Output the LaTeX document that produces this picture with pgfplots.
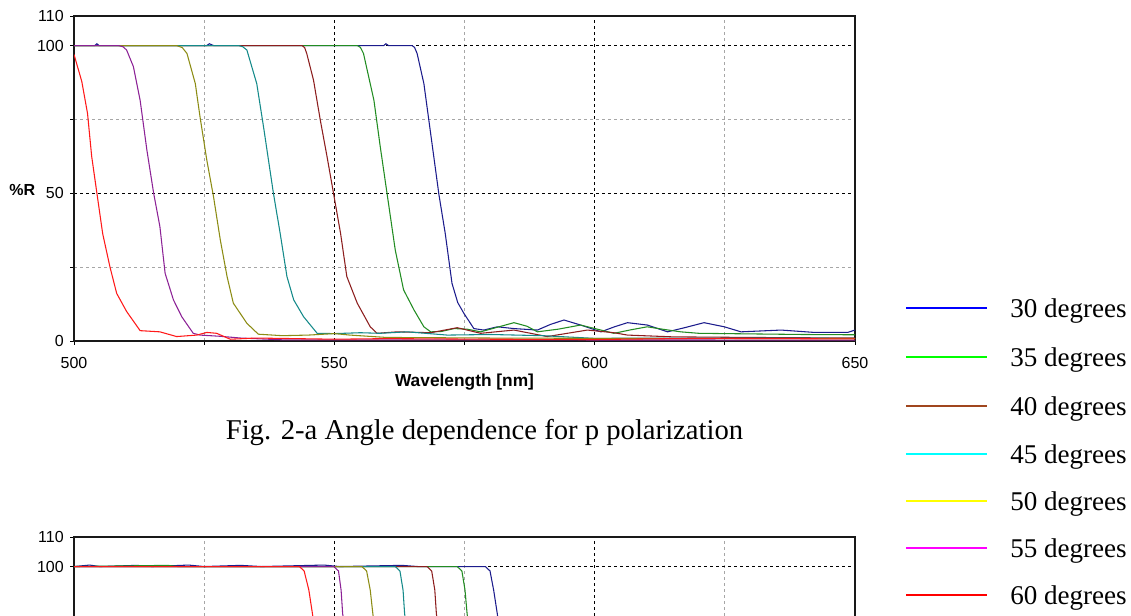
\documentclass[border=0pt]{standalone}
\usepackage{fontspec}
\setmainfont{Liberation Serif}
\setsansfont{Liberation Sans}
\usepackage{pgfplots}
\pgfplotsset{compat=1.18}

% plot colours
\definecolor{c30}{RGB}{28,28,140}
\definecolor{c35}{RGB}{34,140,34}
\definecolor{c40}{RGB}{140,30,30}
\definecolor{c45}{RGB}{20,138,138}
\definecolor{c50}{RGB}{140,140,20}
\definecolor{c55}{RGB}{140,34,150}
\definecolor{c60}{RGB}{255,25,25}
% legend colours
\definecolor{l30}{RGB}{0,0,255}
\definecolor{l35}{RGB}{0,255,0}
\definecolor{l40}{RGB}{160,70,30}
\definecolor{l45}{RGB}{0,255,255}
\definecolor{l50}{RGB}{255,255,0}
\definecolor{l55}{RGB}{255,0,255}
\definecolor{l60}{RGB}{255,0,0}

\pgfplotsset{
  refl/.style={
    scale only axis,
    width=585.75pt, height=243.75pt,
    xmin=500, xmax=650, ymin=0, ymax=110,
    xtick={500,550,600,650}, ytick={0,50,100,110},
    minor xtick={525,575,625}, minor ytick={25,75},
    grid=both,
    major grid style={black, dash pattern=on 2.25pt off 2.25pt, line width=0.6pt},
    minor grid style={black!35, dash pattern=on 2.25pt off 2.25pt, line width=0.6pt},
    axis line style={black!90, line width=0.9pt},
    tick align=outside, major tick length=3pt, minor tick length=3pt,
    tick style={black, line width=0.7pt},
    xtick pos=left, ytick pos=left,
    font=\sffamily\fontsize{12}{14}\selectfont,
    /pgf/number format/assume math mode=true,
    xticklabel style={inner sep=0pt, yshift=-9pt},
    yticklabel style={inner sep=0pt, xshift=-4.5pt},
    every axis x label/.style={at={(axis description cs:0.5,0)}, anchor=center, yshift=-30.75pt,
      inner sep=0pt, font=\sffamily\bfseries\fontsize{13}{15}\selectfont},
    every axis y label/.style={at={(axis description cs:0,0.465)}, anchor=east, xshift=-29pt,
      inner sep=0pt, font=\sffamily\bfseries\fontsize{12}{14}\selectfont},
    every axis plot/.append style={line width=0.8pt, no marks},
  }
}

\begin{document}
\begin{tikzpicture}

% ---- Fig. 2-a, p polarization ----
\begin{axis}[refl, at={(55.5pt,206.25pt)}, anchor=south west,
  xlabel={Wavelength [nm]}, ylabel={\%R}]
\addplot[c30] coordinates {
 (500,100) (504,100) (504.4,100.6) (504.8,100) (525.5,100) (526,100.6) (526.8,100)
 (559.5,100) (559.9,100.6) (560.4,100) (564.9,100) (565.4,99.4) (565.9,97.3) (567.2,87.1)
 (568.5,70.2) (570.1,49.4) (571.3,36.4) (572.6,19.5) (573.7,13) (574.9,9.3)
 (576.8,4.2) (578.7,3.7) (581.3,4.8) (584.5,4.2) (589,3.7) (591.5,5.6) (594.1,7.1)
 (597.3,5.4) (601.2,3.1) (603.8,4.8) (606.3,6.2) (610.1,5.4) (614,3.1) (617.5,4.6)
 (621,6.2) (624.9,4.8) (628.1,3.1) (635.8,3.7) (642.2,2.9) (648.6,2.9) (650,3.7)
};
\addplot[c35] coordinates {
 (500,100) (554.4,100) (555,99.4) (555.6,97.3) (557.6,81.5) (558.8,66) (560.2,49) (561.7,30.8)
 (563.3,17.3) (565.3,10.5) (567.2,4.8) (568.5,3.1) (570.5,3.2) (573,4.2) (575.5,4.0)
 (578.1,3.1) (581,4.5) (584.5,6.2) (587,5) (589,3.1) (593,4) (597.3,5.4) (600.5,4)
 (603.7,2.6) (607,3.8) (610.1,4.8) (613,4) (616.5,3.1) (620,2.6) (630,2.4) (640,2.2) (650,2.1)
};
\addplot[c40] coordinates {
 (500,100) (543.8,100) (544.3,99.3) (544.7,97.3) (546,88.3) (547.3,74.8) (548.6,62.4) (549.9,49.4)
 (551.2,36.4) (552.4,21.8) (554.4,12.8) (556.9,4.8) (558.2,2.6) (562.1,3.1) (568.5,2.8)
 (573.6,4.5) (578.1,2.6) (584.5,3.7) (590.9,1.5) (598.6,3.7) (603.7,2.8) (606.3,2.0)
 (615,1.4) (630,1.2) (650,1.0)
};
\addplot[c45] coordinates {
 (500,100) (531.6,100) (532.4,99.6) (533.2,98.5) (535.1,87.1) (536.4,72.5) (538.3,50) (539.6,36.4)
 (540.9,21.8) (542.2,13.9) (544.1,8.2) (546.7,2.6) (550,2.5) (555,2.8) (558.8,2.6)
 (564,3.1) (571.7,2.0) (580,2.2) (590,1.8) (599.9,0.9) (620,1.0) (650,0.9)
};
\addplot[c50] coordinates {
 (500,100) (519.7,100) (520.8,99.3) (521.7,97.3) (523.3,87.1) (524.2,75.9) (525.5,61.3) (526.8,48.8)
 (528.1,34.2) (529.4,21.8) (530.6,12.8) (533.2,6.0) (535.4,2.3) (540,1.8) (545,2.0)
 (550,2.5) (553,2.0) (560,1.2) (580,1.0) (620,0.8) (650,0.8)
};
\addplot[c55] coordinates {
 (500,100) (508.5,100) (509.4,99.6) (510.1,98.5) (511.4,92.9) (512.7,81.5) (514,64.6) (515.3,50)
 (516.5,38.7) (517.5,22.9) (519.1,13.9) (520.7,8.2) (522.9,2.6) (524.2,2.0) (528,1.6)
 (532,1.0) (540,0.4) (650,0.3)
};
\addplot[c60] coordinates {
 (500,97) (501.5,87.8) (502.6,77) (503.4,62.4) (504.5,48.8) (505.5,36.4) (506.9,25.1)
 (508.2,16.1) (510.1,10) (512.7,3.5) (516.5,3.1) (519.7,1.5) (523.6,2.0) (525.5,2.9)
 (527.4,2.6) (530,0.6) (535,1.0) (550,0.6) (560,0.8) (580,0.6) (600,0.5) (620,0.9) (650,0.7)
};
\end{axis}

% ---- second figure (s polarization), cut off by the page ----
\begin{axis}[refl, at={(55.5pt,-184.5pt)}, anchor=south west,
  xticklabels={}, yticklabels={,,100,110}]
\addplot[c30] coordinates {
 (500,100) (503,100.5) (505,100) (512,100.4) (515,100) (522,100.5) (525,100) (532,100.4)
 (536,100) (548,100.5) (551,100) (563,100.4) (566,100) (579,100) (579.9,98.5) (580.6,92)
 (581.3,84) (582.3,70) (583.5,50) (585,30) (586.5,15) (588.5,5) (591,2) (650,1.5)
};
\addplot[c35] coordinates {
 (500,100) (518,100.4) (520,100) (573.6,100) (574.5,98.5) (575.1,92) (575.5,84)
 (576.6,70) (577.8,50) (579.3,30) (580.8,15) (582.8,5) (585.6,2) (650,1.5)
};
\addplot[c40] coordinates {
 (500,100) (567.8,100) (568.7,98.5) (569.3,92) (569.6,84) (570.8,70) (572,50)
 (573.5,30) (575,15) (577,5) (579.8,2) (650,1.2)
};
\addplot[c45] coordinates {
 (500,100) (561.7,100) (562.6,98.5) (563.2,92) (563.5,84) (564.7,70) (565.9,50)
 (567.4,30) (568.9,15) (570.9,5) (573.7,2) (650,1)
};
\addplot[c50] coordinates {
 (500,100) (555.3,100) (556.2,98.5) (556.9,92) (557.4,84) (558.3,70) (559.5,50)
 (561,30) (562.5,15) (564.5,5) (567.3,2) (650,1)
};
\addplot[c55] coordinates {
 (500,100) (549.9,100) (550.8,98.5) (551.3,92) (551.6,84) (552.9,70) (554.1,50)
 (555.6,30) (557.1,15) (559.1,5) (561.9,2) (650,0.8)
};
\addplot[c60] coordinates {
 (500,100) (543.3,100) (544.2,98.5) (545.1,92.1) (545.8,84) (546.8,70) (548,50)
 (549.5,30) (551,15) (553,5) (556,2) (650,1)
};
\end{axis}

% caption
\node[font=\fontsize{21.5}{24}\selectfont, inner sep=0pt] at (363.4pt,137.25pt)
  {Fig. 2-a Angle dependence for p polarization};

% legend
\foreach \y/\c/\t in {231/l30/30, 194.25/l35/35, 157.5/l40/40, 121.5/l45/45,
                      86.25/l50/50, 51/l55/55, 15.75/l60/60} {
  \draw[\c, line width=1.3pt] (679.5pt,\y pt) -- (740.25pt,\y pt);
  \node[anchor=base west, inner sep=0pt, font=\fontsize{20.3}{24}\selectfont]
    at (757.5pt,\y pt-7.3pt) {\t\ degrees};
}

\pgfresetboundingbox
\useasboundingbox (0pt,0pt) rectangle (848.25pt,462pt);
\end{tikzpicture}
\end{document}
